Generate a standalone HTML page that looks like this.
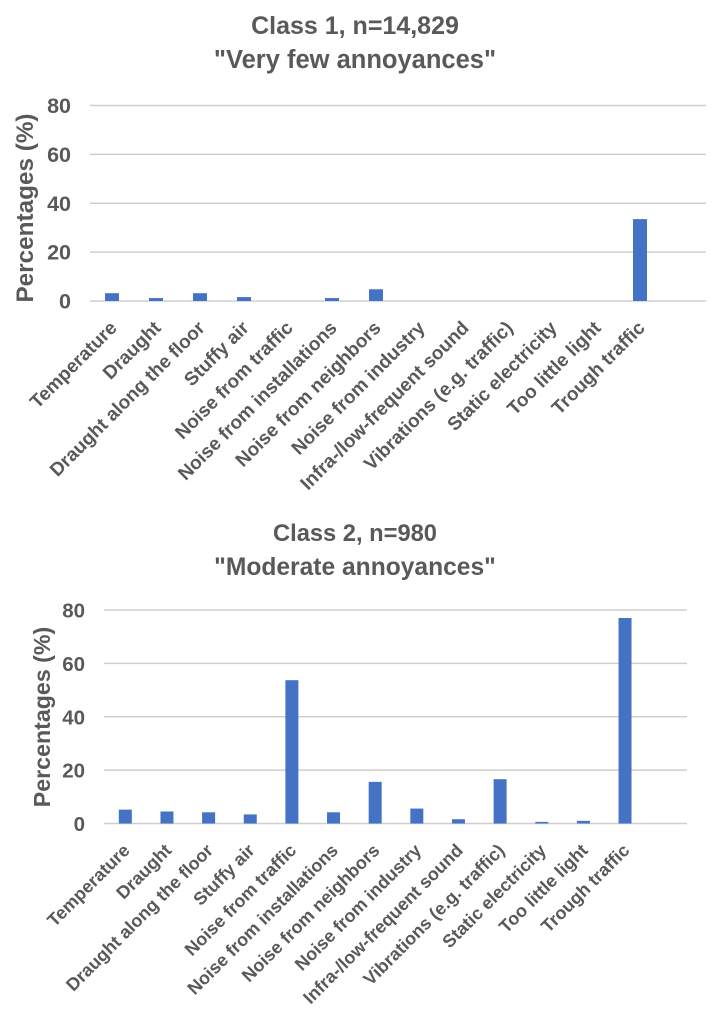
<!DOCTYPE html>
<html lang="en">
<head>
<meta charset="utf-8">
<title>Annoyances by class</title>
<style>
html,body{margin:0;padding:0;background:#fff;width:724px;height:1024px;overflow:hidden}
svg{display:block}
text{font-family:"Liberation Sans",sans-serif;font-weight:bold;fill:#595959}
</style>
</head>
<body>
<svg id="chart" xmlns="http://www.w3.org/2000/svg" width="724" height="1024" viewBox="0 0 724 1024" style="filter:blur(0.35px)"></svg>
<script>
const categories = ["Temperature","Draught","Draught along the floor","Stuffy air","Noise from traffic","Noise from installations","Noise from neighbors","Noise from industry","Infra-/low-frequent sound","Vibrations (e.g. traffic)","Static electricity","Too little light","Trough traffic"];
const class1Values = [3.2,1.2,3.2,1.6,0,1.2,4.8,0,0,0,0,0,33.5];
const class2Values = [5.2,4.5,4.2,3.4,53.7,4.2,15.6,5.6,1.6,16.6,0.6,1,77];
const yTicks = [0,20,40,60,80];
const class1Title = ["Class 1, n=14,829","\"Very few annoyances\""];
const class2Title = ["Class 2, n=980","\"Moderate annoyances\""];
const yTitle = "Percentages (%)";
const slotCount = 14;
const yMax = 80;

const NS = "http://www.w3.org/2000/svg";
const root = document.getElementById("chart");

function mk(tag, attrs, parent, txt){
  const el = document.createElementNS(NS, tag);
  for (const k in attrs) el.setAttribute(k, attrs[k]);
  if (txt !== undefined) el.textContent = txt;
  parent.appendChild(el);
  return el;
}

function drawChart(prefix, values, title, g){
  const group = mk("g", {}, root);
  
  
  const xScale = i => g.left + (g.right - g.left) * (i + 0.5) / slotCount;
  const yScale = v => g.bottom - (g.bottom - g.top) * v / yMax;

  title.forEach((line, i) => {
    const t = mk("text", {x: g.titleX, y: g.titleY + i * 34, "text-anchor": "middle", "font-size": g.titleSizes[i]}, group, line);
    
    
  });

  yTicks.forEach(v => {
    const line = mk("line", {x1: g.left, x2: g.right, y1: yScale(v), y2: yScale(v), stroke: "#cfcfcf", "stroke-width": 1.5}, group);
    
    
    const lab = mk("text", {x: g.tickX, y: yScale(v) + 7.5, "text-anchor": "end", "font-size": g.tickSize}, group, String(v));
    
    
  });

  const yt = mk("text", {transform: "translate(" + g.yTitleX + " " + g.yTitleY + ") rotate(-90)", "text-anchor": "middle", "font-size": g.yTitleSize}, group, yTitle);
  
  

  values.forEach((v, i) => {
    const w = g.barWidth;
    const bar = mk("rect", {x: xScale(i) - w / 2 + g.barShift, y: yScale(v), width: w, height: Math.max(0, yScale(0) - yScale(v)), fill: "#4472c4"}, group);
    
    
  });

  categories.forEach((c, i) => {
    const x = xScale(i) + 6;
    const y = g.bottom + 28;
    const lab = mk("text", {transform: "translate(" + x + " " + y + ") rotate(-45)", "text-anchor": "end", "font-size": g.labelSize}, group, c);
    
    
  });
}

drawChart("class-1", class1Values, class1Title, {left: 90, right: 706, top: 105.5, bottom: 301, titleX: 355, titleY: 34, titleSizes: [25, 25.5], tickX: 71, tickSize: 21.5, yTitleX: 33, yTitleY: 208, yTitleSize: 24.3, barWidth: 14, barShift: 0, labelSize: 19});
drawChart("class-2", class2Values, class2Title, {left: 104, right: 687, top: 610, bottom: 823.5, titleX: 355, titleY: 541, titleSizes: [23.7, 24.6], tickX: 85, tickSize: 20.5, yTitleX: 50, yTitleY: 717, yTitleSize: 23.2, barWidth: 13, barShift: 0.5, labelSize: 18});
</script>
</body>
</html>
